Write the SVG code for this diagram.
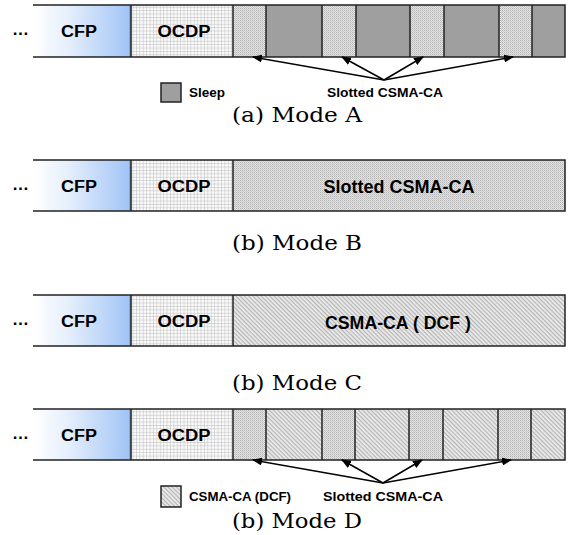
<svg xmlns="http://www.w3.org/2000/svg" width="571" height="535" viewBox="0 0 571 535">
<style>
.bar{stroke:#222;stroke-width:1.5}
.lbl{font-family:"Liberation Sans",Arial,sans-serif;font-weight:bold;fill:#000}
.cap{font-family:"DejaVu Serif","Liberation Serif",serif;font-size:20px;fill:#000}
.arr{stroke:#000;stroke-width:1.5;fill:none;marker-end:url(#ah)}
</style>
<defs>
<linearGradient id="cfp" x1="0" y1="0" x2="1" y2="0">
<stop offset="0" stop-color="#ffffff"/>
<stop offset="0.35" stop-color="#e6effc"/>
<stop offset="1" stop-color="#9fc3f5"/>
</linearGradient>
<pattern id="grid" width="3.4" height="3.4" patternUnits="userSpaceOnUse">
<rect width="3.4" height="3.4" fill="#fafafa"/>
<path d="M0 0.3H3.4M0.3 0V3.4" stroke="#c4c4c4" stroke-width="0.7"/>
</pattern>
<pattern id="dots" width="2" height="2" patternUnits="userSpaceOnUse">
<rect width="2" height="2" fill="#e4e4e4"/>
<rect width="1" height="1" fill="#b4b4b4"/>
<rect x="1" y="1" width="1" height="1" fill="#c8c8c8"/>
</pattern>
<pattern id="hatch" width="3" height="3" patternUnits="userSpaceOnUse" patternTransform="rotate(45)">
<rect width="3" height="3" fill="#ececec"/>
<rect width="3" height="1.2" fill="#b4b4b4"/>
</pattern>
<marker id="ah" markerWidth="10" markerHeight="8" refX="9" refY="4" orient="auto" markerUnits="userSpaceOnUse">
<path d="M0 0L10 4L0 8Z" fill="#000"/>
</marker>
</defs>

<!-- Mode A -->
<g id="modeA">
<text class="lbl" x="12" y="35" font-size="17">…</text>
<g id="a-cfp"><rect x="33" y="5" width="98" height="52" fill="url(#cfp)"/><line x1="130" y1="6" x2="130" y2="56" stroke="#7aa3dc" stroke-width="1.5"/><text class="lbl" x="79" y="37" font-size="16" text-anchor="middle" textLength="36" lengthAdjust="spacingAndGlyphs">CFP</text></g>
<g id="a-ocdp"><rect x="131" y="5" width="102" height="52" fill="url(#grid)"/><text class="lbl" x="184" y="37" font-size="16" text-anchor="middle" textLength="53" lengthAdjust="spacingAndGlyphs">OCDP</text></g>
<g id="a-slots">
<rect x="233" y="5" width="33" height="52" fill="url(#dots)"/>
<rect x="266" y="5" width="56" height="52" fill="#9f9f9f"/>
<rect x="322" y="5" width="34" height="52" fill="url(#dots)"/>
<rect x="356" y="5" width="54" height="52" fill="#9f9f9f"/>
<rect x="410" y="5" width="34" height="52" fill="url(#dots)"/>
<rect x="444" y="5" width="55" height="52" fill="#9f9f9f"/>
<rect x="499" y="5" width="33" height="52" fill="url(#dots)"/>
<rect x="532" y="5" width="33" height="52" fill="#9f9f9f"/>
</g>
<path class="bar" fill="none" d="M33 5H565V57H33M131 5V57M233 5V57M266 5V57M322 5V57M356 5V57M410 5V57M444 5V57M499 5V57M532 5V57"/>
<g id="a-legend"><rect x="161" y="83" width="20" height="19" fill="#9f9f9f" class="bar"/><text class="lbl" x="189" y="97" font-size="13.5" textLength="36" lengthAdjust="spacingAndGlyphs">Sleep</text></g>
<text class="lbl" x="327" y="97" font-size="13.5" textLength="116" lengthAdjust="spacingAndGlyphs">Slotted CSMA-CA</text>
<text class="cap" x="297" y="122" text-anchor="middle" textLength="130" lengthAdjust="spacingAndGlyphs">(a) Mode A</text>
</g>

<!-- Mode B -->
<g id="modeB">
<text class="lbl" x="12" y="190" font-size="17">…</text>
<g id="b-cfp"><rect x="33" y="160" width="98" height="51" fill="url(#cfp)"/><line x1="130" y1="161" x2="130" y2="210" stroke="#7aa3dc" stroke-width="1.5"/><text class="lbl" x="79" y="192" font-size="16" text-anchor="middle" textLength="36" lengthAdjust="spacingAndGlyphs">CFP</text></g>
<g id="b-ocdp"><rect x="131" y="160" width="102" height="51" fill="url(#grid)"/><text class="lbl" x="184" y="192" font-size="16" text-anchor="middle" textLength="53" lengthAdjust="spacingAndGlyphs">OCDP</text></g>
<g id="b-slotted"><rect x="233" y="160" width="332" height="51" fill="url(#dots)"/><text class="lbl" x="399" y="193" font-size="18" text-anchor="middle">Slotted CSMA-CA</text></g>
<path class="bar" fill="none" d="M33 160H565V211H33M131 160V211M233 160V211"/>
<text class="cap" x="297" y="250" text-anchor="middle" textLength="130" lengthAdjust="spacingAndGlyphs">(b) Mode B</text>
</g>

<!-- Mode C -->
<g id="modeC">
<text class="lbl" x="12" y="325" font-size="17">…</text>
<g id="c-cfp"><rect x="33" y="295" width="98" height="51" fill="url(#cfp)"/><line x1="130" y1="296" x2="130" y2="345" stroke="#7aa3dc" stroke-width="1.5"/><text class="lbl" x="79" y="327" font-size="16" text-anchor="middle" textLength="36" lengthAdjust="spacingAndGlyphs">CFP</text></g>
<g id="c-ocdp"><rect x="131" y="295" width="102" height="51" fill="url(#grid)"/><text class="lbl" x="184" y="327" font-size="16" text-anchor="middle" textLength="53" lengthAdjust="spacingAndGlyphs">OCDP</text></g>
<g id="c-dcf"><rect x="233" y="295" width="332" height="51" fill="url(#hatch)"/><text class="lbl" x="325" y="329" font-size="18" textLength="146" lengthAdjust="spacingAndGlyphs">CSMA-CA ( DCF )</text></g>
<path class="bar" fill="none" d="M33 295H565V346H33M131 295V346M233 295V346"/>
<text class="cap" x="297" y="390" text-anchor="middle" textLength="130" lengthAdjust="spacingAndGlyphs">(b) Mode C</text>
</g>

<!-- Mode D -->
<g id="modeD">
<text class="lbl" x="12" y="439" font-size="17">…</text>
<g id="d-cfp"><rect x="33" y="409" width="98" height="51" fill="url(#cfp)"/><line x1="130" y1="410" x2="130" y2="459" stroke="#7aa3dc" stroke-width="1.5"/><text class="lbl" x="79" y="441" font-size="16" text-anchor="middle" textLength="36" lengthAdjust="spacingAndGlyphs">CFP</text></g>
<g id="d-ocdp"><rect x="131" y="409" width="102" height="51" fill="url(#grid)"/><text class="lbl" x="184" y="441" font-size="16" text-anchor="middle" textLength="53" lengthAdjust="spacingAndGlyphs">OCDP</text></g>
<g id="d-slots">
<rect x="233" y="409" width="33" height="51" fill="url(#dots)"/>
<rect x="266" y="409" width="56" height="51" fill="url(#hatch)"/>
<rect x="322" y="409" width="33" height="51" fill="url(#dots)"/>
<rect x="355" y="409" width="54" height="51" fill="url(#hatch)"/>
<rect x="409" y="409" width="34" height="51" fill="url(#dots)"/>
<rect x="443" y="409" width="55" height="51" fill="url(#hatch)"/>
<rect x="498" y="409" width="33" height="51" fill="url(#dots)"/>
<rect x="531" y="409" width="34" height="51" fill="url(#hatch)"/>
</g>
<path class="bar" fill="none" d="M33 409H565V460H33M131 409V460M233 409V460M266 409V460M322 409V460M355 409V460M409 409V460M443 409V460M498 409V460M531 409V460"/>
<g id="d-legend"><rect x="161" y="486" width="20" height="21" fill="url(#hatch)" class="bar"/><text class="lbl" x="189" y="501" font-size="13.5" textLength="102" lengthAdjust="spacingAndGlyphs">CSMA-CA (DCF)</text></g>
<text class="lbl" x="323" y="501" font-size="13.5" textLength="120" lengthAdjust="spacingAndGlyphs">Slotted CSMA-CA</text>
<text class="cap" x="297" y="528" text-anchor="middle" textLength="130" lengthAdjust="spacingAndGlyphs">(b) Mode D</text>
</g>

<g id="connectors">
<path class="arr" d="M384 80L253 57"/>
<path class="arr" d="M384 80L342 57"/>
<path class="arr" d="M384 80L423 57"/>
<path class="arr" d="M384 80L513 57"/>
<path class="arr" d="M383 483L253 460"/>
<path class="arr" d="M383 483L342 460"/>
<path class="arr" d="M383 483L422 460"/>
<path class="arr" d="M383 483L511 460"/>
</g>
</svg>
